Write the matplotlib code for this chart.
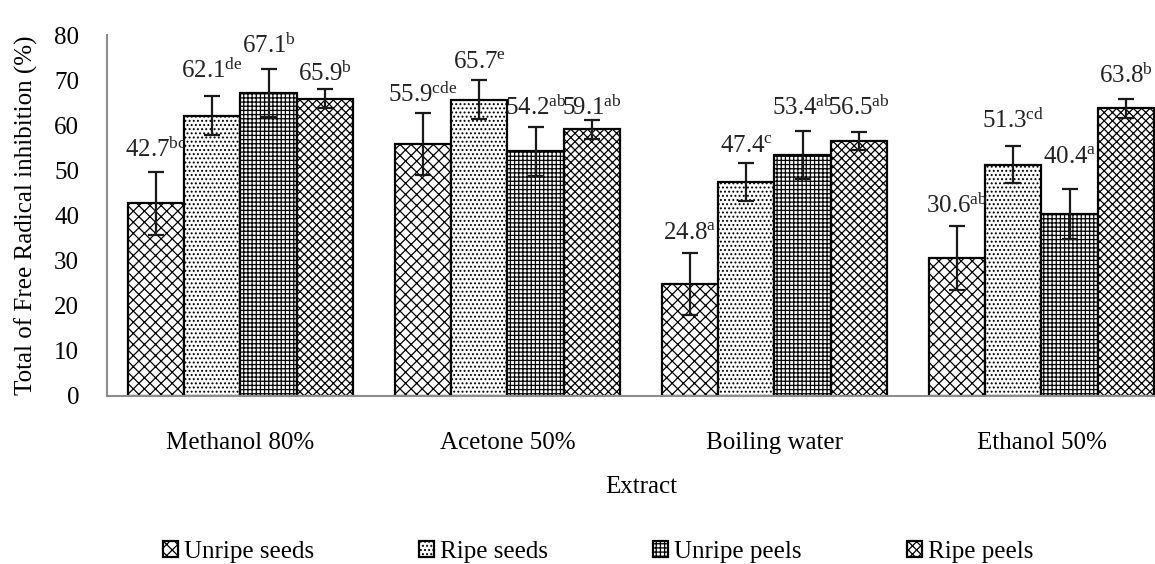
import matplotlib
matplotlib.use("Agg")
import matplotlib.pyplot as plt
import numpy as np

plt.rcParams['font.family'] = ['Liberation Serif', 'DejaVu Serif']
plt.rcParams['mathtext.fontset'] = 'custom'
plt.rcParams['mathtext.rm'] = 'Liberation Serif'
plt.rcParams['mathtext.it'] = 'Liberation Serif'
plt.rcParams['hatch.linewidth'] = 0.9

categories = ["Methanol 80%", "Acetone 50%", "Boiling water", "Ethanol 50%"]
series = ["Unripe seeds", "Ripe seeds", "Unripe peels", "Ripe peels"]

unripe_seeds = [42.7, 55.9, 24.8, 30.6]
ripe_seeds = [62.1, 65.7, 47.4, 51.3]
unripe_peels = [67.1, 54.2, 53.4, 40.4]
ripe_peels = [65.9, 59.1, 56.5, 63.8]

err_unripe_seeds = [7.0, 6.9, 6.8, 7.0]
err_ripe_seeds = [4.3, 4.3, 4.2, 4.2]
err_unripe_peels = [5.3, 5.4, 5.4, 5.5]
err_ripe_peels = [2.1, 2.1, 1.9, 2.1]

letters_unripe_seeds = ["bc", "cde", "a", "ab"]
letters_ripe_seeds = ["de", "e", "c", "cd"]
letters_unripe_peels = ["b", "ab", "ab", "a"]
letters_ripe_peels = ["b", "ab", "ab", "b"]

# label baseline heights (data units)
lab_unripe_seeds = [53.0, 65.2, 34.9, 40.5]
lab_ripe_seeds = [70.4, 72.6, 54.0, 59.5]
lab_unripe_peels = [76.0, 62.3, 62.3, 51.6]
lab_ripe_peels = [69.9, 62.3, 62.3, 69.4]

values = [unripe_seeds, ripe_seeds, unripe_peels, ripe_peels]
errors = [err_unripe_seeds, err_ripe_seeds, err_unripe_peels, err_ripe_peels]
letters = [letters_unripe_seeds, letters_ripe_seeds, letters_unripe_peels, letters_ripe_peels]
labpos = [lab_unripe_seeds, lab_ripe_seeds, lab_unripe_peels, lab_ripe_peels]
hatches = ['xxx', '....', '++++', 'xxxx']

fig = plt.figure(figsize=(11.55, 5.64), dpi=100)
ax = fig.add_axes([107/1155, 1-396/564, 1068/1155, 361/564])

x = np.arange(len(categories))
w = 0.2116
for k in range(4):
    pos = x + (k - 1.5) * w
    ax.bar(pos, values[k], width=w, color='white', edgecolor='black',
           linewidth=1.6, hatch=hatches[k], label=series[k], zorder=2)
    ax.errorbar(pos, values[k], yerr=errors[k], fmt='none', ecolor='#1a1a1a',
                elinewidth=1.6, capsize=6, capthick=1.6, zorder=3)
    for i in range(len(categories)):
        ax.text(pos[i], labpos[k][i], f"{values[k][i]:.1f}" + r"$^{\mathrm{" + letters[k][i] + "}}$",
                ha='center', va='baseline', fontsize=18, color='#222222', zorder=4)

ax.set_xlim(-0.5, 3.5)
ax.set_ylim(0, 80)
ax.set_yticks(np.arange(0, 81, 10))
ax.set_xticks(x)
ax.set_xticklabels(categories, fontsize=18)
ax.tick_params(axis='both', length=0)
ax.tick_params(axis='y', labelsize=18, pad=20)
ax.tick_params(axis='x', pad=26)
for s in ['top', 'right']:
    ax.spines[s].set_visible(False)
for s in ['left', 'bottom']:
    ax.spines[s].set_color('#8c8c8c')
    ax.spines[s].set_linewidth(1.5)

ax.set_ylabel("Total of Free Radical inhibition (%)", fontsize=18, labelpad=12)
ax.set_xlabel("Extract", fontsize=18, labelpad=16)

fig.legend(loc='center', bbox_to_anchor=(598/1155, 1-552/564), ncol=4, frameon=False,
           fontsize=18, handlelength=0.6, handleheight=0.6, handletextpad=0.25,
           columnspacing=4.2)

fig.savefig("out.png", dpi=100)
